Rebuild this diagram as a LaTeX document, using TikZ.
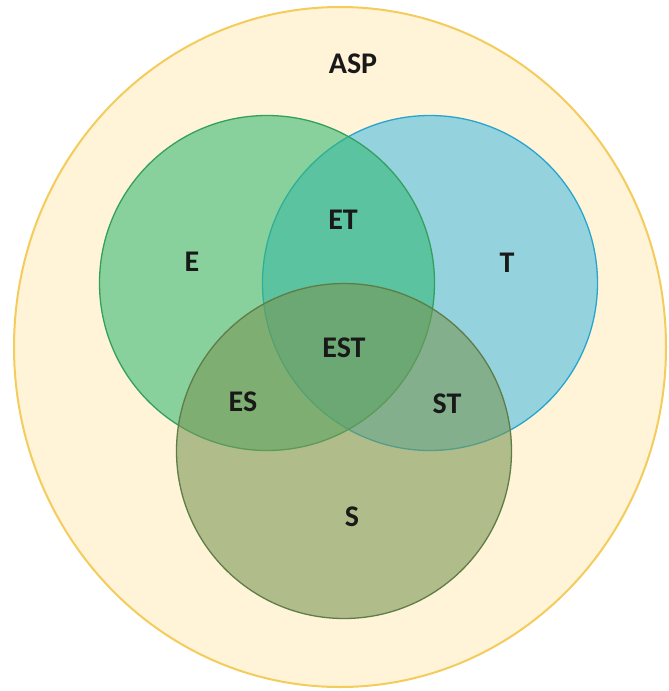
\documentclass[tikz,border=0pt]{standalone}
\usepackage{fontspec}
\setmainfont{Carlito}
\usepackage{tikz}
\usetikzlibrary{shapes.geometric}

\definecolor{aspFill}{RGB}{255,243,216}
\definecolor{aspLine}{RGB}{244,204,92}
\definecolor{eFill}{RGB}{51,185,114}
\definecolor{eLine}{RGB}{52,160,96}
\definecolor{tFill}{RGB}{71,188,227}
\definecolor{tLine}{RGB}{40,165,205}
\definecolor{sFill}{RGB}{120,150,84}
\definecolor{sLine}{RGB}{95,125,70}

\tikzstyle{setAll} = [ellipse, minimum width=652pt, minimum height=680pt, inner sep=0pt, draw=aspLine, line width=2pt, fill=aspFill]
\tikzstyle{setCircle} = [circle, minimum size=335pt, inner sep=0pt, line width=1.3pt, fill opacity=0.58]
\tikzstyle{setLabel} = [font=\fontsize{30}{30}\selectfont\bfseries, text=black!90, inner sep=0pt]

\begin{document}
\begin{tikzpicture}[x=1pt, y=-1pt]

\useasboundingbox (0,0) rectangle (669,691);

% outer set
\node (asp) [setAll] at (340,347) {};

% the three sets, T under E under S
\node (setT) [setCircle, draw=tLine, fill=tFill] at (430,283) {};
\node (setE) [setCircle, draw=eLine, fill=eFill] at (267,283) {};
\node (setS) [setCircle, draw=sLine, fill=sFill] at (344,451) {};

% region labels
\node (lblASP) [setLabel] at (353,64) {ASP};
\node (lblE) [setLabel] at (192,262) {E};
\node (lblT) [setLabel] at (507,263) {T};
\node (lblET) [setLabel] at (343,220) {ET};
\node (lblEST) [setLabel] at (344,348) {EST};
\node (lblES) [setLabel] at (243,402) {ES};
\node (lblST) [setLabel] at (447,404) {ST};
\node (lblS) [setLabel] at (352,517) {S};

\end{tikzpicture}
\end{document}
